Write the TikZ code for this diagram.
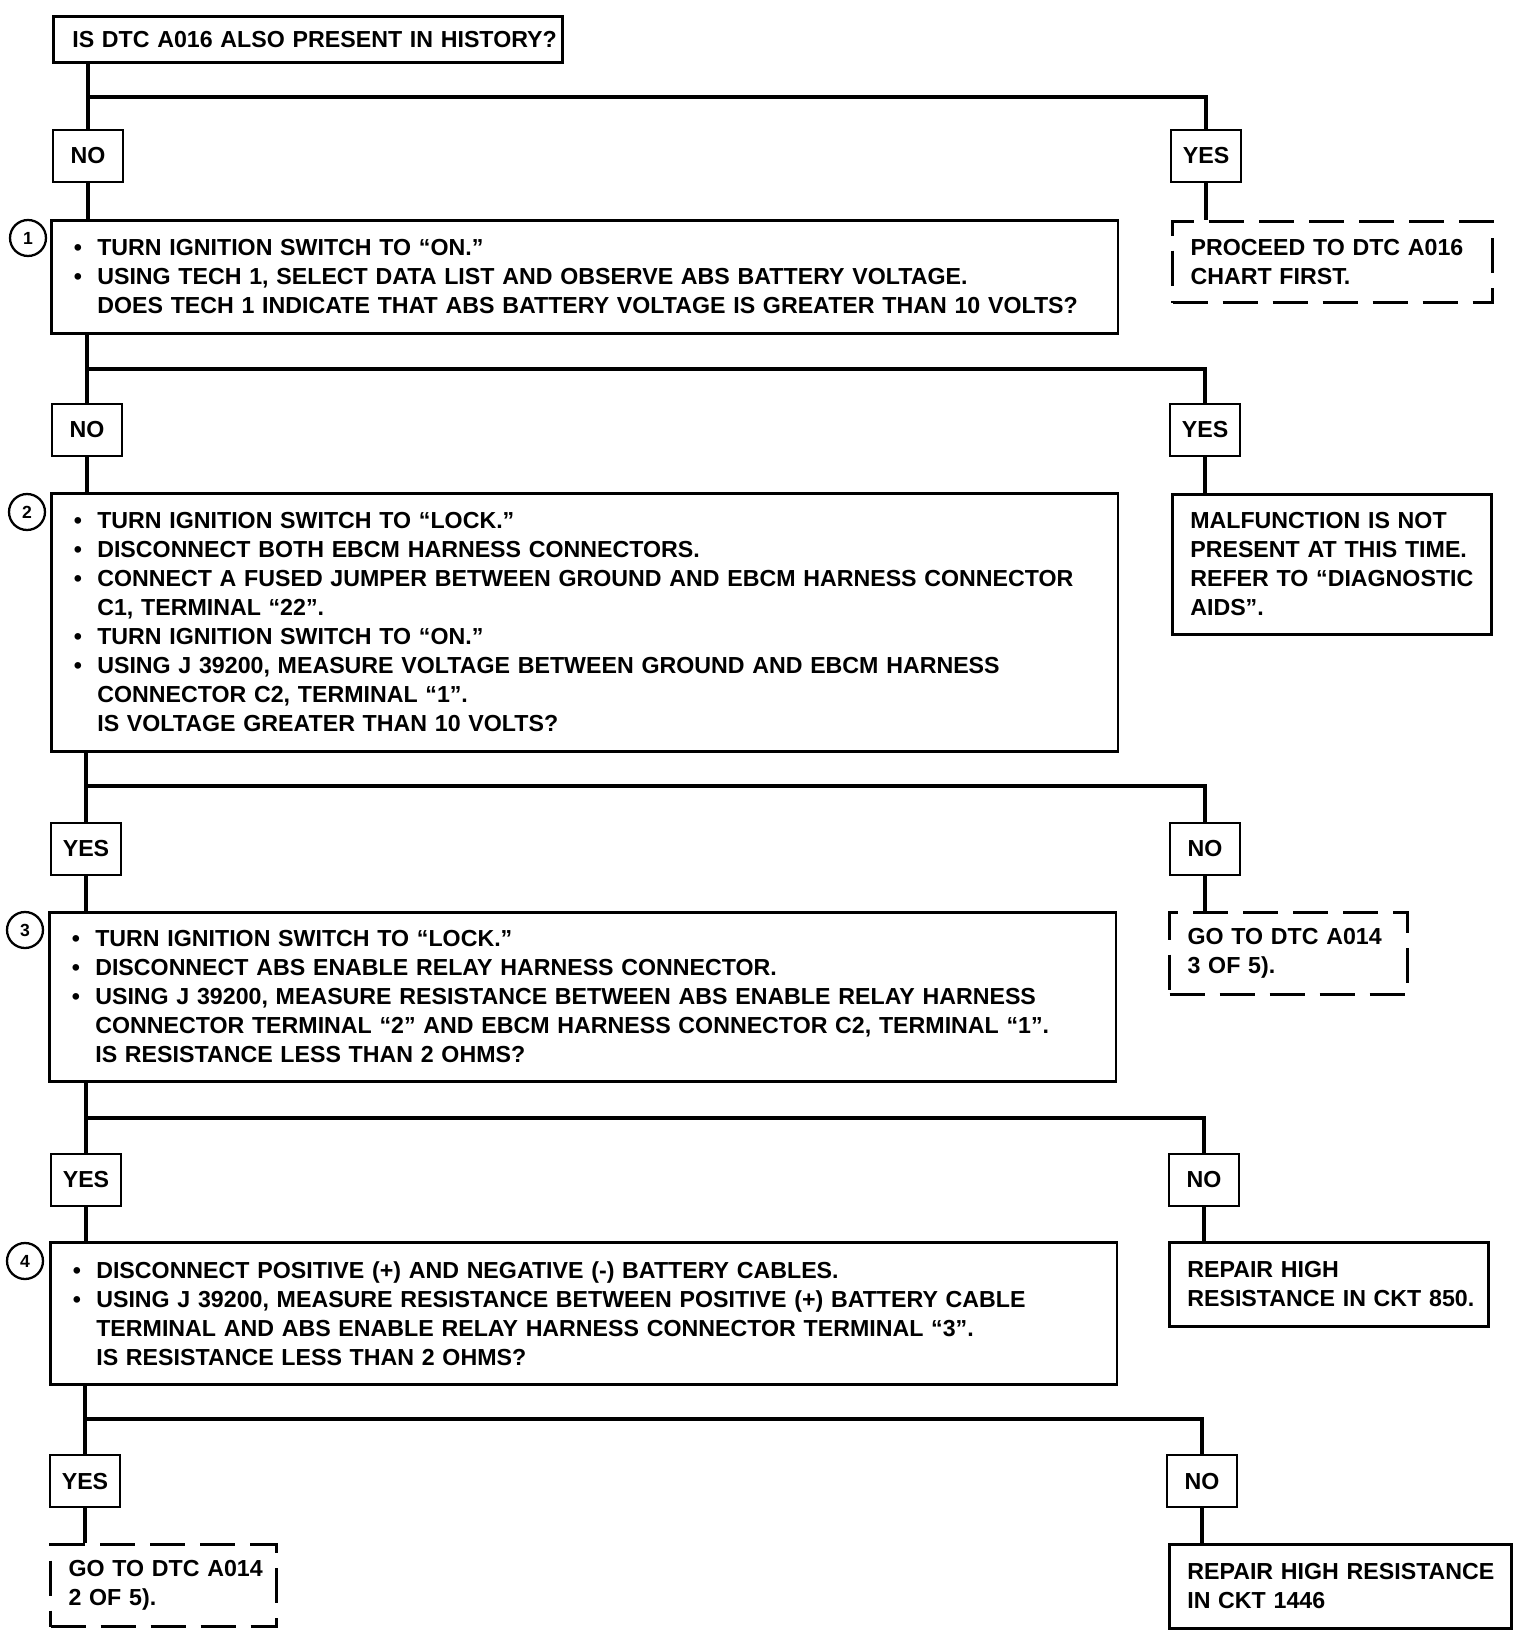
\documentclass[tikz,border=0pt]{standalone}
\usepackage{fontspec}
\setmainfont{Liberation Sans}
\usetikzlibrary{positioning,calc}

\newcommand{\bul}{\makebox[0.52cm][l]{\hspace{0.05cm}\textbullet}}
\newcommand{\ind}{\hspace*{0.52cm}}

\tikzset{
  chartbox/.style={
    draw=black,
    line width=1.5pt,
    fill=white,
    anchor=north west,
    align=left,
    inner xsep=0.36cm,
    inner ysep=0pt,
    font=\fontsize{13.2}{16.5}\selectfont\bfseries,
    execute at begin node={\hyphenpenalty=10000\rightskip=-3cm plus 1fil}
  },
  topbox/.style={chartbox, inner xsep=0.38cm, text width=9.42cm, minimum height=0.92cm},
  stepbox/.style={chartbox, inner xsep=0.4cm, text width=20.54cm},
  endbox/.style={chartbox},
  endboxdashed/.style={chartbox, line width=1.8pt, dash pattern=on 0.7cm off 0.3cm},
  answer/.style={
    draw=black,
    line width=1.5pt,
    fill=white,
    minimum width=1.4cm,
    minimum height=1.04cm,
    inner sep=0pt,
    font=\fontsize{13.2}{16.5}\selectfont\bfseries
  },
  numcirc/.style={
    circle,
    draw=black,
    line width=1.3pt,
    minimum size=0.72cm,
    inner sep=0pt,
    font=\fontsize{10}{12}\selectfont\bfseries
  },
  flowline/.style={draw=black, line width=2.4pt}
}

\begin{document}
\begin{tikzpicture}[x=0.02cm, y=-0.02cm]
  \path[use as bounding box, fill=white] (0,0) rectangle (1536,1638);

  \node[topbox] (q0) at (52,15) {IS DTC A016 ALSO PRESENT IN HISTORY?};

  \node[stepbox, minimum height=2.26cm] (s1) at (50,219) {%
    \bul TURN IGNITION SWITCH TO “ON.”\\
    \bul USING TECH 1, SELECT DATA LIST AND OBSERVE ABS BATTERY VOLTAGE.\\
    \ind DOES TECH 1 INDICATE THAT ABS BATTERY VOLTAGE IS GREATER THAN 10 VOLTS?};
  \node[numcirc] (n1) at (28,238) {1};
  \node[endboxdashed, text width=5.68cm, minimum height=1.62cm] (proceed) at (1171,220) {PROCEED TO DTC A016\\CHART FIRST.};

  \node[stepbox, minimum height=5.16cm] (s2) at (50,492) {%
    \bul TURN IGNITION SWITCH TO “LOCK.”\\
    \bul DISCONNECT BOTH EBCM HARNESS CONNECTORS.\\
    \bul CONNECT A FUSED JUMPER BETWEEN GROUND AND EBCM HARNESS CONNECTOR\\
    \ind C1, TERMINAL “22”.\\
    \bul TURN IGNITION SWITCH TO “ON.”\\
    \bul USING J 39200, MEASURE VOLTAGE BETWEEN GROUND AND EBCM HARNESS\\
    \ind CONNECTOR C2, TERMINAL “1”.\\
    \ind IS VOLTAGE GREATER THAN 10 VOLTS?};
  \node[numcirc] (n2) at (27,512) {2};
  \node[endbox, text width=5.66cm, minimum height=2.8cm] (malf) at (1171,493) {MALFUNCTION IS NOT\\PRESENT AT THIS TIME.\\REFER TO “DIAGNOSTIC\\AIDS”.};

  \node[stepbox, minimum height=3.38cm] (s3) at (48,911) {%
    \bul TURN IGNITION SWITCH TO “LOCK.”\\
    \bul DISCONNECT ABS ENABLE RELAY HARNESS CONNECTOR.\\
    \bul USING J 39200, MEASURE RESISTANCE BETWEEN ABS ENABLE RELAY HARNESS\\
    \ind CONNECTOR TERMINAL “2” AND EBCM HARNESS CONNECTOR C2, TERMINAL “1”.\\
    \ind IS RESISTANCE LESS THAN 2 OHMS?};
  \node[numcirc] (n3) at (25,930) {3};
  \node[endboxdashed, text width=4.04cm, minimum height=1.64cm] (goto3) at (1168,911) {GO TO DTC A014\\3 OF 5).};

  \node[stepbox, minimum height=2.84cm] (s4) at (49,1241) {%
    \bul DISCONNECT POSITIVE (+) AND NEGATIVE (-) BATTERY CABLES.\\
    \bul USING J 39200, MEASURE RESISTANCE BETWEEN POSITIVE (+) BATTERY CABLE\\
    \ind TERMINAL AND ABS ENABLE RELAY HARNESS CONNECTOR TERMINAL “3”.\\
    \ind IS RESISTANCE LESS THAN 2 OHMS?};
  \node[numcirc] (n4) at (25,1261) {4};
  \node[endbox, text width=5.66cm, minimum height=1.68cm] (repair850) at (1168,1241) {REPAIR HIGH\\RESISTANCE IN CKT 850.};

  \node[endboxdashed, text width=3.8cm, minimum height=1.64cm] (goto2) at (49,1543) {GO TO DTC A014\\2 OF 5).};
  \node[endbox, text width=6.12cm, minimum height=1.68cm] (repair1446) at (1168,1543) {REPAIR HIGH RESISTANCE\\IN CKT 1446};

  \node[answer] (no1) at (88,156) {NO};
  \node[answer] (yes1) at (1206,156) {YES};
  \node[answer] (no2) at (87,430) {NO};
  \node[answer] (yes2) at (1205,430) {YES};
  \node[answer] (yes3) at (86,849) {YES};
  \node[answer] (no3) at (1205,849) {NO};
  \node[answer] (yes4) at (86,1180) {YES};
  \node[answer] (no4) at (1204,1180) {NO};
  \node[answer] (yes5) at (85,1481) {YES};
  \node[answer] (no5) at (1202,1481) {NO};

  \coordinate (j1) at (88,97);
  \coordinate (j2) at (87,369);
  \coordinate (j3) at (86,786);
  \coordinate (j4) at (86,1118);
  \coordinate (j5) at (85,1419);

  \draw[flowline] (no1 |- q0.south) -- (no1.north);
  \draw[flowline] (no1.south) -- (no1 |- s1.north);
  \draw[flowline] (j1) -| (yes1.north);
  \draw[flowline] (yes1.south) -- (yes1 |- proceed.north);

  \draw[flowline] (no2 |- s1.south) -- (no2.north);
  \draw[flowline] (no2.south) -- (no2 |- s2.north);
  \draw[flowline] (j2) -| (yes2.north);
  \draw[flowline] (yes2.south) -- (yes2 |- malf.north);

  \draw[flowline] (yes3 |- s2.south) -- (yes3.north);
  \draw[flowline] (yes3.south) -- (yes3 |- s3.north);
  \draw[flowline] (j3) -| (no3.north);
  \draw[flowline] (no3.south) -- (no3 |- goto3.north);

  \draw[flowline] (yes4 |- s3.south) -- (yes4.north);
  \draw[flowline] (yes4.south) -- (yes4 |- s4.north);
  \draw[flowline] (j4) -| (no4.north);
  \draw[flowline] (no4.south) -- (no4 |- repair850.north);

  \draw[flowline] (yes5 |- s4.south) -- (yes5.north);
  \draw[flowline] (yes5.south) -- (yes5 |- goto2.north);
  \draw[flowline] (j5) -| (no5.north);
  \draw[flowline] (no5.south) -- (no5 |- repair1446.north);
\end{tikzpicture}
\end{document}
